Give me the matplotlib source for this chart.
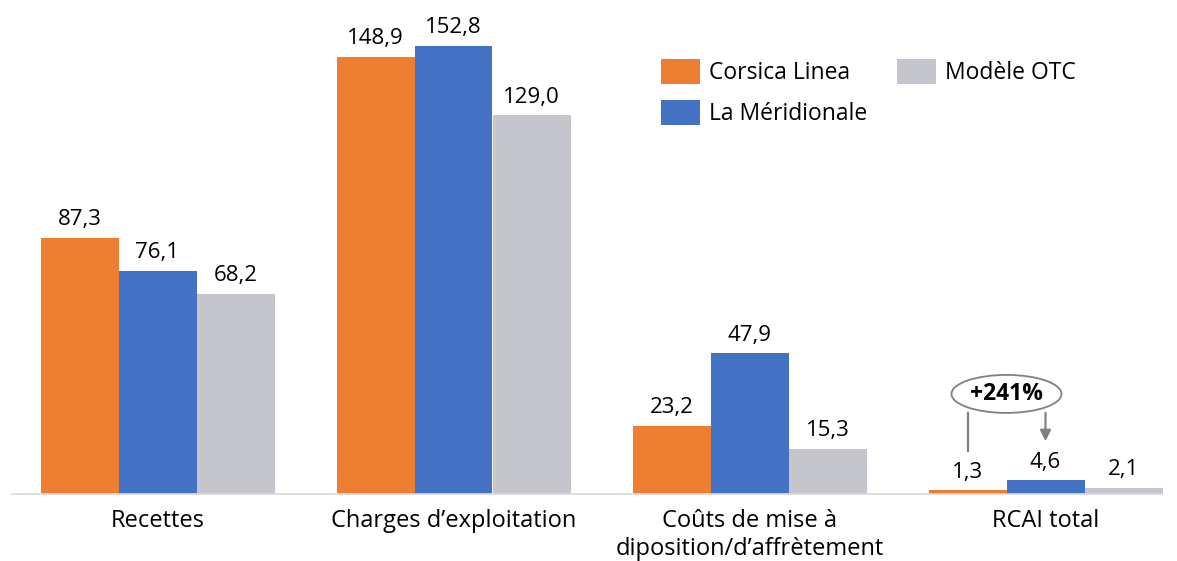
import matplotlib
matplotlib.use("Agg")
import matplotlib.pyplot as plt
from matplotlib.patches import Ellipse
import numpy as np

categories = ["Recettes", "Charges d’exploitation", "Coûts de mise à\ndiposition/d’affrètement", "RCAI total"]
series_names = ["Corsica Linea", "La Méridionale", "Modèle OTC"]
corsica = [87.3, 148.9, 23.2, 1.3]
meridionale = [76.1, 152.8, 47.9, 4.6]
otc = [68.2, 129.0, 15.3, 2.1]
annotation_text = "+241%"

colors = ["#ED7D31", "#4472C4", "#C5C5CD"]
plt.rcParams['font.family'] = ['Open Sans', 'DejaVu Sans']

fig = plt.figure(figsize=(11.77, 5.61), dpi=100)
ax = fig.add_axes([0, 67/561, 1, 494/561])

px_per_unit = 296.0
x0 = 157.5
ax.set_xlim((0 - x0) / px_per_unit, (1177 - x0) / px_per_unit)
ax.set_ylim(0, 494 / 2.935)

w = 78 / px_per_unit
x = np.arange(len(categories))
fs_val = 16
fs_tick = 17
fs_leg = 16.5
for i, (vals, c, name) in enumerate(zip([corsica, meridionale, otc], colors, series_names)):
    pos = x + (i - 1) * w
    ax.bar(pos, vals, width=w, color=c, label=name, zorder=2)
    for xi, v in zip(pos, vals):
        ax.text(xi, v + 2.6, f"{v:.1f}".replace(".", ","), ha="center", va="bottom",
                fontsize=fs_val, color="#000000")

# baseline axis line
ax.plot([(12 - x0) / px_per_unit, (1162 - x0) / px_per_unit], [0, 0],
        color="#D9D9D9", lw=1.2, zorder=3, clip_on=False)

for s in ax.spines.values():
    s.set_visible(False)
ax.set_yticks([])
ax.set_xticks(x)
ax.set_xticklabels(categories, fontsize=fs_tick, linespacing=1.2)
ax.tick_params(axis="x", length=0, pad=11)

# annotation on RCAI total
gray = "#7F7F86"
xl = x[3] - w
xr = x[3]
ell_cx = (xl + xr) / 2
ell_cy = 34.1
ax.add_patch(Ellipse((ell_cx, ell_cy), 110 / px_per_unit, 38 / 2.935,
                     facecolor="white", edgecolor=gray, lw=1.3, zorder=4))
ax.text(ell_cx, ell_cy, annotation_text, ha="center", va="center", fontsize=16.5,
        fontweight="bold", zorder=5)
ax.plot([xl, xl], [ell_cy - 19 / 2.935, 14.6], color=gray, lw=1.6, zorder=4)
ax.annotate("", xy=(xr, 18.0), xytext=(xr, ell_cy - 19 / 2.935),
            arrowprops=dict(arrowstyle="-|>", color=gray, lw=1.6,
                            mutation_scale=16, shrinkA=0, shrinkB=0), zorder=4)

leg = ax.legend(loc="upper left", bbox_to_anchor=(661 / 1177, 1 - 59 / 494),
                ncol=2, frameon=False, fontsize=fs_leg,
                handlelength=1.7, handleheight=1.3, handletextpad=0.4,
                columnspacing=1.3, labelspacing=0.65, borderaxespad=0, borderpad=0)

fig.savefig("out.png", dpi=100)
